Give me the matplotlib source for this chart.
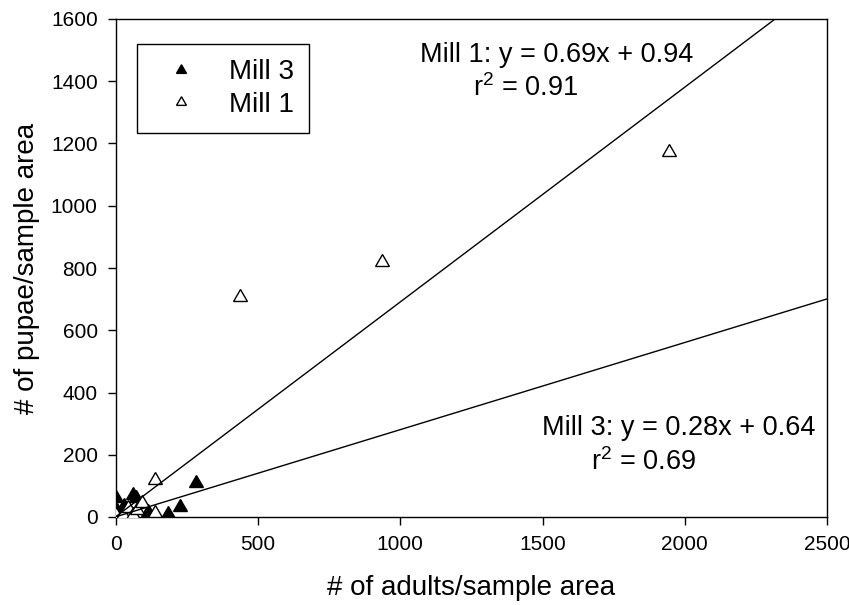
import numpy as np
import matplotlib
matplotlib.use("Agg")
import matplotlib.pyplot as plt

plt.rcParams['font.family'] = ['Liberation Sans', 'DejaVu Sans']
plt.rcParams['mathtext.fontset'] = 'custom'
plt.rcParams['mathtext.rm'] = 'Liberation Sans'

# adults vs pupae per sample area
mill3_adults = [0, 5, 30, 62, 70, 114, 185, 226, 281]
mill3_pupae = [60, 20, 35, 71, 60, 17, 10, 33, 108]

mill1_adults = [0, 27, 44, 61, 74, 91, 138, 138, 438, 935, 1945]
mill1_pupae = [6, 6, 28, 6, 22, 44, 12, 119, 707, 818, 1174]

# fitted regressions (slope, intercept, r2)
mill1_fit = (0.69, 0.94, 0.91)
mill3_fit = (0.28, 0.64, 0.69)

x_ticks = [0, 500, 1000, 1500, 2000, 2500]
y_ticks = [0, 200, 400, 600, 800, 1000, 1200, 1400, 1600]

tri = (3, 0, 0)  # equilateral triangle

fig = plt.figure(figsize=(8.49, 6.05), dpi=100)
ax = fig.add_axes([115.75/849, 88/605, 711.25/849, 498/605])

ax.plot(mill3_adults, mill3_pupae, marker=tri, ls='none', color='black',
        ms=11.5, mec='black', mew=1.0, label='Mill 3', zorder=3)
ax.plot(mill1_adults, mill1_pupae, marker=tri, ls='none', color='white',
        ms=11.5, mec='black', mew=1.0, label='Mill 1', zorder=4)

xx = np.array([0, 2500])
for slope, icpt, r2 in (mill1_fit, mill3_fit):
    ax.plot(xx, slope * xx + icpt, color='black', lw=1.0, zorder=5)

ax.set_xlim(0, 2500)
ax.set_ylim(0, 1600)
ax.set_xticks(x_ticks)
ax.set_yticks(y_ticks)
ax.tick_params(direction='out', length=6, width=1.0, labelsize=15, pad=7)
for sp in ax.spines.values():
    sp.set_linewidth(1.0)

ax.set_xlabel('# of adults/sample area', fontsize=20, labelpad=15)
ax.set_ylabel('# of pupae/sample area', fontsize=20, labelpad=8)

# regression equations
ax.text(1069, 1462, 'Mill 1: y = %.2fx + %.2f' % mill1_fit[:2], fontsize=19.5,
        ha='left', va='baseline')
ax.text(1256, 1352, r'r$^{\mathregular{2}}$ = %.2f' % mill1_fit[2], fontsize=19.5,
        ha='left', va='baseline')
ax.text(1497, 263, 'Mill 3: y = %.2fx + %.2f' % mill3_fit[:2], fontsize=19.5,
        ha='left', va='baseline')
ax.text(1670, 151, r'r$^{\mathregular{2}}$ = %.2f' % mill3_fit[2], fontsize=19.5,
        ha='left', va='baseline')

leg = ax.legend(loc='upper left', bbox_to_anchor=(0.0299, 0.9498),
                borderaxespad=0, fontsize=20, markerscale=0.72,
                frameon=True, fancybox=False, edgecolor='black',
                borderpad=0.55, labelspacing=0.25, handlelength=2.1,
                handletextpad=0.65, numpoints=1)
leg.get_frame().set_linewidth(1.0)
leg.get_frame().set_alpha(1.0)

fig.savefig('out.png', dpi=100, facecolor='white')
